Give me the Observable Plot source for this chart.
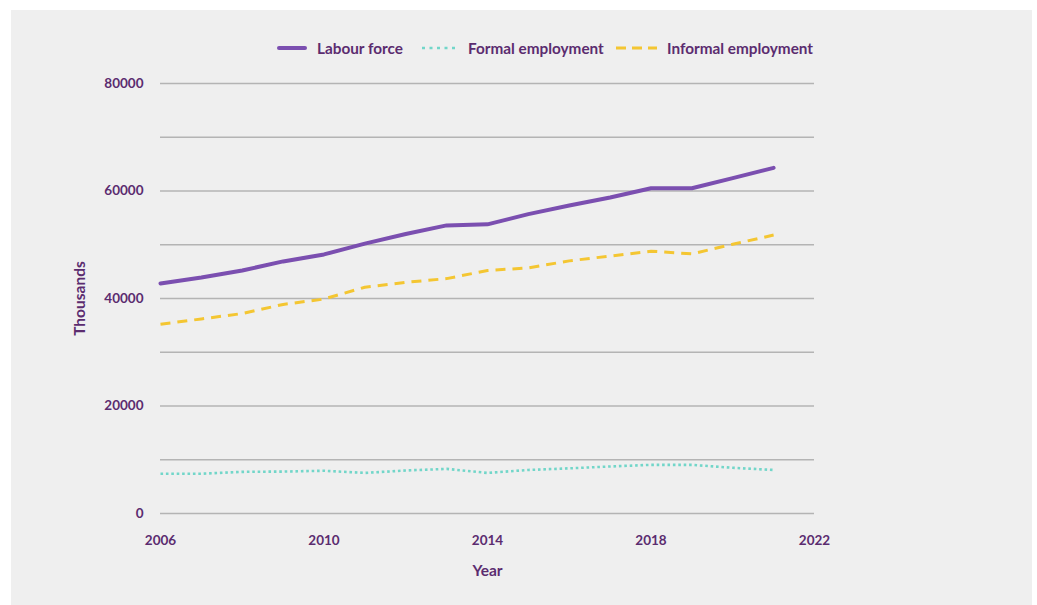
<!DOCTYPE html>
<html>
<head>
<meta charset="utf-8">
<script src="https://cdn.jsdelivr.net/npm/d3@7"></script>
<script src="https://cdn.jsdelivr.net/npm/@observablehq/plot@0.6"></script>
<style>
  html, body { margin: 0; padding: 0; background: #ffffff; width: 1037px; height: 605px; overflow: hidden; }
  #panel { position: absolute; left: 11px; top: 10px; width: 1021px; height: 595px; background: #efefef; }
  #chart { position: absolute; left: 0; top: 0; }
  #legend { position: absolute; top: 38px; left: 0; height: 20px; font-family: Lato, "Open Sans", sans-serif; font-weight: 700; font-size: 15.3px; color: #5b2c6f; }
  .item { position: absolute; top: 0; white-space: nowrap; display: flex; align-items: center; height: 20px; }
  .item svg { margin-right: 10px; }
</style>
</head>
<body>
<div id="panel"></div>
<div id="chart"></div>
<div id="legend"></div>
<script>
const years = [2006, 2007, 2008, 2009, 2010, 2011, 2012, 2013, 2014, 2015, 2016, 2017, 2018, 2019, 2020, 2021];
const labourForce = [42800, 43900, 45200, 46900, 48200, 50200, 52000, 53600, 53800, 55700, 57300, 58800, 60500, 60500, 62400, 64300];
const formalEmployment = [7400, 7400, 7750, 7800, 7950, 7550, 8000, 8300, 7550, 8100, 8400, 8750, 9050, 9050, 8500, 8100];
const informalEmployment = [35200, 36200, 37200, 38900, 39900, 42100, 43000, 43700, 45200, 45700, 47000, 47900, 48800, 48300, 50100, 51800];
const seriesNames = ["Labour force", "Formal employment", "Informal employment"];
const xTicks = [2006, 2010, 2014, 2018, 2022];
const yTicks = [0, 20000, 40000, 60000, 80000];
const yGrid = [0, 10000, 20000, 30000, 40000, 50000, 60000, 70000, 80000];

const textColor = "#5b2c6f";
const styles = [
  {color: "#7b4fb0", width: 4, dash: null},
  {color: "#72d6c9", width: 2.6, dash: "2.6 2.8"},
  {color: "#f4c632", width: 3, dash: "10 7"}
];

const table = (vals) => years.map((y, i) => ({year: y, value: vals[i]}));
const seriesData = [labourForce, formalEmployment, informalEmployment].map(table);

const chart = Plot.plot({
  width: 1037,
  height: 605,
  marginLeft: 160,
  marginRight: 223,
  marginTop: 83,
  marginBottom: 92,
  style: {background: "transparent", fontFamily: "Lato, 'Open Sans', sans-serif", fontWeight: 700, fontSize: "13.5px", color: textColor},
  x: {domain: [2006, 2022], ticks: xTicks, tickFormat: d => String(d), tickSize: 0, tickPadding: 22, label: "Year", labelArrow: "none", labelAnchor: "center", labelOffset: 62},
  y: {domain: [0, 80000], ticks: yTicks, tickFormat: d => String(d), tickSize: 0, tickPadding: 17, label: "Thousands", labelArrow: "none", labelAnchor: "center", labelOffset: 87},
  marks: [
    Plot.ruleY(yGrid, {stroke: "#b4b4b4", strokeWidth: 1.5}),
    ...seriesData.map((d, i) => Plot.line(d, {
      x: "year", y: "value",
      stroke: styles[i].color,
      strokeWidth: styles[i].width,
      strokeDasharray: styles[i].dash,
      strokeLinecap: i === 0 ? "round" : "butt"
    }))
  ]
});
document.getElementById("chart").appendChild(chart);
chart.querySelectorAll("text").forEach(t => { t.style.fontWeight = 700; t.setAttribute("fill", textColor); });
chart.querySelectorAll("[aria-label='x-axis label'] text, [aria-label='y-axis label'] text").forEach(t => { t.style.fontSize = "15.5px"; });

// legend
const legend = document.getElementById("legend");
const positions = [277, 422, 616];
const swW = [30, 36, 41];
seriesNames.forEach((name, i) => {
  const div = document.createElement("div");
  div.className = "item";
  div.style.left = positions[i] + "px";
  const s = styles[i];
  div.innerHTML = `<svg width="${swW[i]}" height="10"><line x1="${i===0?2:0}" x2="${swW[i]-(i===0?2:0)}" y1="5" y2="5" stroke="${s.color}" stroke-width="${s.width}" ${s.dash ? `stroke-dasharray="${i===1?'3 4.5':'10 6'}"` : ''} stroke-linecap="${i===0?'round':'butt'}"/></svg><span>${name}</span>`;
  legend.appendChild(div);
});
</script>
</body>
</html>
